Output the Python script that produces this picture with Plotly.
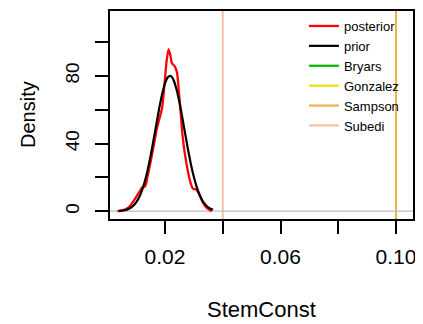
import plotly.graph_objects as go

# ---- data ----
prior_x = [0.004, 0.005, 0.006, 0.007, 0.008, 0.009, 0.010, 0.011, 0.012, 0.013,
           0.014, 0.015, 0.016, 0.017, 0.018, 0.019, 0.020, 0.021, 0.022, 0.023,
           0.024, 0.025, 0.026, 0.027, 0.028, 0.029, 0.030, 0.031, 0.032, 0.033,
           0.034, 0.035, 0.036, 0.0366]
prior_y = [0.15, 0.3, 0.6, 1.1, 1.9, 3.2, 5.2, 8.1, 12.2, 17.6,
           24.4, 32.6, 41.8, 51.4, 60.8, 69.1, 75.5, 79.2, 79.9, 77.4,
           71.9, 64.3, 55.3, 45.6, 36.1, 27.5, 20.2, 14.2, 9.6, 6.2,
           3.9, 2.3, 1.3, 0.8]

post_x = [0.0035, 0.005, 0.0065, 0.0075, 0.0085, 0.0095, 0.0105, 0.0115, 0.012, 0.013,
          0.0135, 0.014, 0.015, 0.016, 0.0172, 0.0178, 0.019, 0.0195, 0.0201, 0.0205,
          0.0212, 0.0218, 0.0224, 0.0232, 0.0238, 0.0242, 0.0247, 0.0253, 0.0259, 0.0265,
          0.0275, 0.0285, 0.0293, 0.0298, 0.0305, 0.0312, 0.032, 0.033, 0.034, 0.035,
          0.0362]
post_y = [0.0, 0.4, 1.3, 2.4, 4.5, 7.0, 9.8, 12.5, 14.0, 14.5,
          16.5, 21.0, 29.0, 38.0, 49.0, 53.0, 61.0, 69.0, 80.6, 88.0,
          95.8, 92.5, 87.4, 86.0, 84.0, 81.5, 72.7, 61.0, 47.7, 38.5,
          27.5, 19.0, 14.5, 13.2, 13.0, 12.0, 9.5, 5.5, 2.8, 1.2,
          0.0]

ref_names = ["Bryars", "Gonzalez", "Sampson", "Subedi"]
ref_values = [None, None, 0.10, 0.04]
ref_colors = ["#00B400", "#E6E600", "#EBB443", "#F5C0A6"]

x_ticks = [0.02, 0.04, 0.06, 0.08, 0.10]
x_ticktext = ["0.02", "", "0.06", "", "0.10"]
y_ticks = [0, 20, 40, 60, 80, 100]
y_ticktext = ["0", "", "40", "", "80", ""]

FONT = "Liberation Sans, Arial, Helvetica, sans-serif"

fig = go.Figure()
fig.add_trace(go.Scatter(x=post_x, y=post_y, mode="lines", name="posterior",
                         line=dict(color="#FF0000", width=2.3, shape="spline", smoothing=0.5)))
fig.add_trace(go.Scatter(x=prior_x, y=prior_y, mode="lines", name="prior",
                         line=dict(color="#000000", width=2.2, shape="spline", smoothing=0.6)))
for n, v, c in zip(ref_names, ref_values, ref_colors):
    fig.add_trace(go.Scatter(x=[None], y=[None], mode="lines", name=n,
                             line=dict(color=c, width=2.2)))
    if v is not None:
        fig.add_shape(type="line", xref="x", yref="paper", x0=v, x1=v, y0=0, y1=1,
                      line=dict(color=c, width=2), layer="below")

# horizontal reference at zero
fig.add_shape(type="line", xref="paper", yref="y", x0=0, x1=1, y0=0, y1=0,
              line=dict(color="#BEBEBE", width=1.2), layer="below")

# the page body has an 8px margin, so the figure is sized/offset to compensate
fig.update_layout(
    width=415, height=316,
    margin=dict(l=102, r=10, t=1, b=105),
    paper_bgcolor="white", plot_bgcolor="white",
    font=dict(family=FONT, color="black"),
    showlegend=True,
    legend=dict(x=0.64, y=1.0, xanchor="left", yanchor="top",
                bgcolor="rgba(0,0,0,0)", borderwidth=0,
                font=dict(size=13, family=FONT), tracegroupgap=0),
    xaxis=dict(range=[0.00095, 0.10588], showgrid=False, zeroline=False,
               showline=True, mirror=True, linecolor="black", linewidth=1.5,
               ticks="outside", ticklen=13, tickwidth=1.5, tickcolor="black",
               tickvals=x_ticks, ticktext=x_ticktext,
               tickfont=dict(size=21, family=FONT), ticklabelstandoff=5),
    yaxis=dict(range=[-4.6, 118.3], showgrid=False, zeroline=False,
               showline=True, mirror=True, linecolor="black", linewidth=1.5,
               ticks="outside", ticklen=13, tickwidth=1.5, tickcolor="black",
               tickvals=y_ticks, ticktext=y_ticktext, tickangle=-90,
               tickfont=dict(size=19, family=FONT), ticklabelstandoff=9),
    annotations=[
        dict(text="StemConst", xref="paper", yref="paper", x=0.5, y=0,
             yshift=-90, showarrow=False, xanchor="center", yanchor="middle",
             font=dict(size=22, family=FONT)),
        dict(text="Density", xref="paper", yref="paper", x=0, y=0.5,
             xshift=-82, showarrow=False, textangle=-90,
             xanchor="center", yanchor="middle",
             font=dict(size=20, family=FONT)),
    ],
)

fig.write_html("out.html")
